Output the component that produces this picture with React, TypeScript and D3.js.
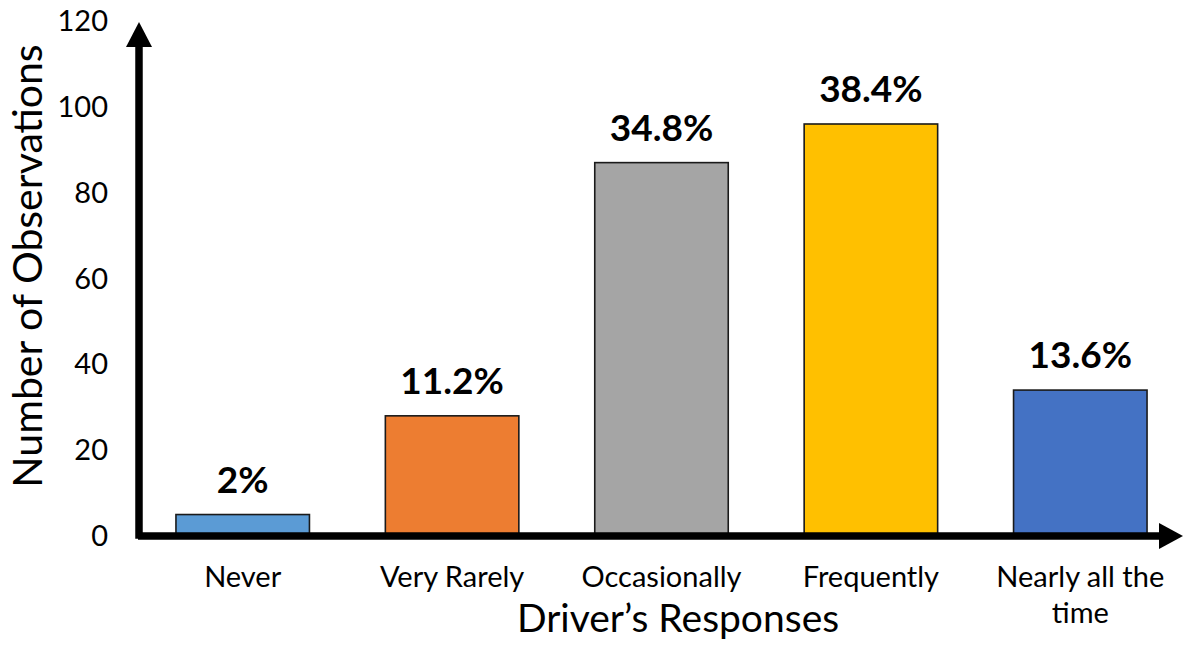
import React from "react";
import * as d3 from "d3";

// Survey responses and observation counts (n = 250)
const categories = ["Never", "Very Rarely", "Occasionally", "Frequently", "Nearly all the time"];
const categoryLines = [["Never"], ["Very Rarely"], ["Occasionally"], ["Frequently"], ["Nearly all the", "time"]];
const counts = [5, 28, 87, 96, 34];
const percentLabels = ["2%", "11.2%", "34.8%", "38.4%", "13.6%"];
const barColors = ["#5B9BD5", "#ED7D31", "#A5A5A5", "#FFC000", "#4472C4"];
const yTicks = [0, 20, 40, 60, 80, 100, 120];

const W = 1183;
const H = 647;
const FONT = "Lato, 'Open Sans', sans-serif";

export default function App() {
  const x = d3
    .scaleBand<string>()
    .domain(categories)
    .range([138, 1185])
    .paddingInner(0.3625)
    .paddingOuter(0.18125);
  const y = d3.scaleLinear().domain([0, 120]).range([536, 21]);

  const axisW = 7.5;
  const x0 = 139;
  const y0 = 536;

  return (
    <svg
      width={W}
      height={H}
      style={{ position: "absolute", left: 0, top: 0, background: "#fff" }}
      fontFamily={FONT}
    >
      {/* bars */}
      {categories.map((c, i) => (
        <rect
          key={c}
          x={x(c)}
          y={y(counts[i])}
          width={x.bandwidth()}
          height={y(0) - y(counts[i])}
          fill={barColors[i]}
          stroke="#1a1a1a"
          strokeWidth={1.6}
        />
      ))}

      {/* value labels */}
      {categories.map((c, i) => (
        <text
          key={c + "-v"}
          x={(x(c) as number) + x.bandwidth() / 2}
          y={y(counts[i]) - 22}
          textAnchor="middle"
          fontSize={37}
          fontWeight={700}
          fill="#000"
        >
          {percentLabels[i]}
        </text>
      ))}

      {/* y axis with arrow */}
      <line x1={x0} x2={x0} y1={y0 + axisW / 2 - 1} y2={45} stroke="#000" strokeWidth={axisW} />
      <path d={`M${x0 - 13},47 L${x0},22 L${x0 + 13},47 Z`} fill="#000" />

      {/* x axis with arrow */}
      <line x1={x0 - 1} x2={1161} y1={y0} y2={y0} stroke="#000" strokeWidth={axisW} />
      <path d={`M1159,${y0 - 13} L1183,${y0} L1159,${y0 + 13} Z`} fill="#000" />

      {/* y tick labels */}
      {yTicks.map((t) => (
        <text
          key={t}
          x={108}
          y={y(t)}
          dy="0.35em"
          textAnchor="end"
          fontSize={29}
          fill="#000"
        >
          {t}
        </text>
      ))}

      {/* category labels */}
      {categories.map((c, i) => (
        <text
          key={c + "-c"}
          x={(x(c) as number) + x.bandwidth() / 2}
          y={587}
          textAnchor="middle"
          fontSize={29}
          fill="#000"
        >
          {categoryLines[i].map((line, j) => (
            <tspan key={j} x={(x(c) as number) + x.bandwidth() / 2} dy={j === 0 ? 0 : 36}>
              {line}
            </tspan>
          ))}
        </text>
      ))}

      {/* axis titles */}
      <text x={678} y={632} textAnchor="middle" fontSize={39} fill="#000">
        Driver’s Responses
      </text>
      <text
        transform={`translate(42,266) rotate(-90)`}
        textAnchor="middle"
        fontSize={41}
        fill="#000"
      >
        Number of Observations
      </text>
    </svg>
  );
}
